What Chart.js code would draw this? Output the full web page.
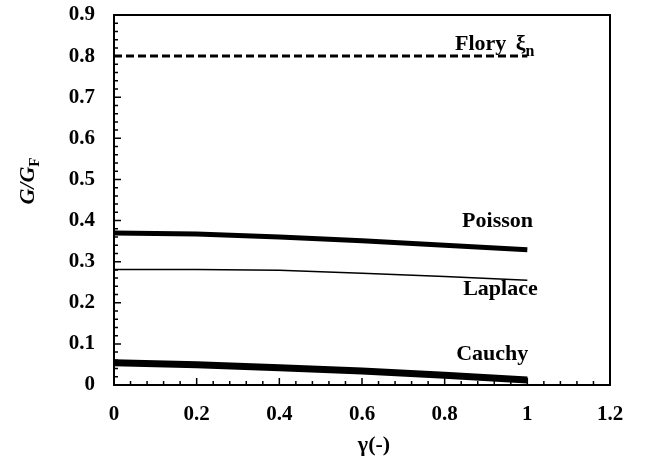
<!DOCTYPE html>
<html>
<head>
<meta charset="utf-8">
<script src="https://cdn.jsdelivr.net/npm/chart.js@4/dist/chart.umd.min.js"></script>
<style>
  html, body { margin: 0; padding: 0; background: #fff; }
  #wrap { width: 651px; height: 466px; }
</style>
</head>
<body>
<div id="wrap"><canvas id="graph" width="651" height="466"></canvas></div>
<script>
var gamma = [0, 0.2, 0.4, 0.6, 0.8, 1];
var flory = [0.8, 0.8, 0.8, 0.8, 0.8, 0.8];
var poisson = [0.370, 0.367, 0.360, 0.351, 0.340, 0.329];
var laplace = [0.281, 0.281, 0.279, 0.272, 0.264, 0.255];
var cauchy = [0.054, 0.049, 0.042, 0.034, 0.024, 0.012];

var xTicks = [0, 0.2, 0.4, 0.6, 0.8, 1, 1.2];
var yTicks = [0, 0.1, 0.2, 0.3, 0.4, 0.5, 0.6, 0.7, 0.8, 0.9];

// curve labels, placed in data units
var labels = [
  {text: "Poisson", x: 0.928, y: 0.384},
  {text: "Laplace", x: 0.935, y: 0.219},
  {text: "Cauchy", x: 0.915, y: 0.061}
];

var serif = "'Liberation Serif', 'Times New Roman', serif";

function pts(ys) {
  return gamma.map(function (g, i) { return {x: g, y: ys[i]}; });
}

var decor = {
  id: 'decor',
  afterDraw: function (chart) {
    var c = chart.ctx;
    var a = chart.chartArea;
    var xs = chart.scales.x, ys = chart.scales.y;
    c.save();
    c.strokeStyle = '#000';
    c.lineWidth = 2;
    c.strokeRect(a.left, a.top, a.right - a.left, a.bottom - a.top);

    // inward ticks
    c.lineWidth = 1.5;
    c.beginPath();
    for (var i = 0; i <= 45; i++) {
      var py = ys.getPixelForValue(i * 0.02);
      var len = (i % 5 === 0) ? 7 : 4;
      c.moveTo(a.left, py); c.lineTo(a.left + len, py);
    }
    for (var j = 0; j <= 30; j++) {
      var px = xs.getPixelForValue(j * 0.04);
      var len2 = (j % 5 === 0) ? 7 : 4;
      c.moveTo(px, a.bottom); c.lineTo(px, a.bottom - len2);
    }
    c.stroke();

    c.fillStyle = '#000';
    c.textBaseline = 'alphabetic';
    c.textAlign = 'center';
    c.font = 'bold 22px ' + serif;
    labels.forEach(function (l) {
      c.fillText(l.text, xs.getPixelForValue(l.x), ys.getPixelForValue(l.y));
    });

    // Flory xi_n
    var fx = xs.getPixelForValue(0.825), fy = ys.getPixelForValue(0.815);
    c.textAlign = 'left';
    c.fillText('Flory', fx, fy);
    var w = c.measureText('Flory ').width;
    c.fillText('\u03BE', fx + w + 4, fy);
    var w2 = c.measureText('\u03BE').width;
    c.font = 'bold 16px ' + serif;
    c.fillText('n', fx + w + 4 + w2, fy + 6);

    // x title
    c.textAlign = 'center';
    c.font = 'bold 22px ' + serif;
    c.fillText('\u03B3(-)', (a.left + a.right) / 2 + 12, 451);

    // y title G/G_F rotated
    c.translate(34, 181);
    c.rotate(-Math.PI / 2);
    c.font = 'italic bold 22px ' + serif;
    var t = 'G/G';
    var tw = c.measureText(t).width;
    c.font = 'bold 15px ' + serif;
    var sw = c.measureText('F').width;
    var x0 = -(tw + sw) / 2;
    c.textAlign = 'left';
    c.font = 'italic bold 22px ' + serif;
    c.fillText(t, x0, 0);
    c.font = 'bold 15px ' + serif;
    c.fillText('F', x0 + tw, 5);
    c.restore();
  }
};

var ctx = document.getElementById("graph").getContext('2d');

var chart = new Chart(ctx, {
  type: 'line',
  data: {
    datasets: [
      {label: 'Flory', data: pts(flory), borderColor: '#000', borderWidth: 3, borderDash: [8, 4], pointRadius: 0, fill: false},
      {label: 'Poisson', data: pts(poisson), borderColor: '#000', borderWidth: 5, pointRadius: 0, fill: false},
      {label: 'Laplace', data: pts(laplace), borderColor: '#000', borderWidth: 1.5, pointRadius: 0, fill: false},
      {label: 'Cauchy', data: pts(cauchy), borderColor: '#000', borderWidth: 7, pointRadius: 0, fill: false}
    ]
  },
  options: {
    responsive: false,
    animation: false,
    layout: {padding: {left: 0, top: 15, right: 41, bottom: 0}},
    plugins: {legend: {display: false}, tooltip: {enabled: false}},
    scales: {
      x: {
        type: 'linear', min: 0, max: 1.2,
        afterBuildTicks: function (s) { s.ticks = xTicks.map(function (v) { return {value: v}; }); },
        afterFit: function (s) { s.height = 81; s.paddingLeft = 0; s.paddingRight = 0; },
        grid: {display: false, drawTicks: false},
        border: {display: false},
        ticks: {color: '#000', padding: 17, maxRotation: 0, font: {family: serif, size: 21, weight: 'bold'},
          callback: function (v) { return String(Math.round(v * 10) / 10); }}
      },
      y: {
        min: 0, max: 0.9,
        afterBuildTicks: function (s) { s.ticks = yTicks.map(function (v) { return {value: v}; }); },
        afterFit: function (s) { s.width = 114; s.paddingTop = 0; s.paddingBottom = 0; },
        grid: {display: false, drawTicks: false},
        border: {display: false},
        ticks: {color: '#000', padding: 19, font: {family: serif, size: 21, weight: 'bold'},
          callback: function (v) { return String(Math.round(v * 10) / 10); }}
      }
    }
  },
  plugins: [decor]
});
</script>
</body>
</html>
